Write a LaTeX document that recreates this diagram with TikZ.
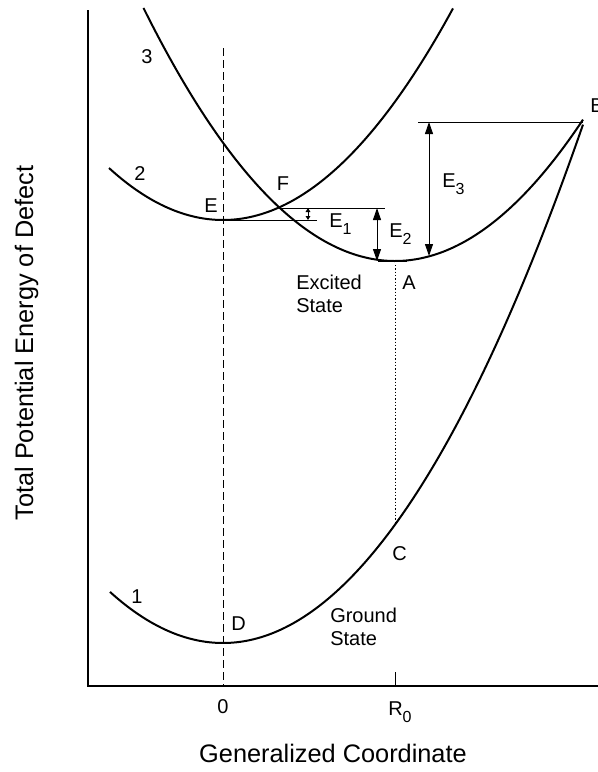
\documentclass[tikz,border=0pt]{standalone}
\usepackage{fontspec}
\setmainfont{Liberation Sans}
\usetikzlibrary{arrows.meta}
\begin{document}
\begin{tikzpicture}[x=0.75pt,y=-0.75pt,
  curve/.style={line width=1.5pt},
  thin/.style={line width=0.75pt},
  axisline/.style={line width=1.1pt},
  dimarrow/.style={line width=0.75pt,{Triangle[length=9pt,width=6pt]}-{Triangle[length=9pt,width=6pt]}},
  smallarrow/.style={line width=0.75pt,{Triangle[length=3pt,width=3.5pt]}-{Triangle[length=3pt,width=3.5pt]}},
  lbl/.style={inner sep=0pt,font=\fontsize{15}{17}\selectfont},
  big/.style={inner sep=0pt,font=\fontsize{19}{22}\selectfont}]
\useasboundingbox (0,0) rectangle (598,772);
% axes
\draw[axisline] (88,10) -- (88,686) -- (598,686);
\draw[thin] (395,672) -- (395,686);
% reference lines
\draw[thin,dash pattern=on 6pt off 3pt] (223,48) -- (223,686);
\draw[thin,dash pattern=on 1pt off 1.5pt] (395,265) -- (395,525);
% curves
\draw[curve] plot[domain=110:583,samples=120] (\x,{643-0.4*((\x-223)/10)^2});
\draw[curve] plot[domain=109:453,samples=120] (\x,{220-0.4*((\x-223)/10)^2});
\draw[curve] plot[domain=143.5:583,samples=120] (\x,{261-0.4*((\x-395)/10)^2});
\draw[line width=2.2pt] (378,261) -- (407,261);
% points
\coordinate (Bpt) at (583,122);
\coordinate (Fpt) at (279,208);
\coordinate (Ept) at (223,220);
% level lines
\draw[thin] (Ept) -- (317,220);
\draw[thin] (Fpt) -- (385,208);
\draw[thin] (418,122) -- (Bpt);
% energy arrows
\coordinate (e1t) at (308,208); \coordinate (e1b) at (308,220);
\coordinate (e2t) at (377,208); \coordinate (e2b) at (377,261);
\coordinate (e3t) at (429,122); \coordinate (e3b) at (429,256);
\draw[smallarrow] (e1t) -- (e1b);
\draw[dimarrow] (e2t) -- (e2b);
\draw[dimarrow] (e3t) -- (e3b);
% labels
\node[lbl,anchor=base] (l3) at (147,63) {3};
\node[lbl,anchor=base] (l2) at (140,180) {2};
\node[lbl,anchor=base] (l1) at (137,603) {1};
\node[lbl,anchor=base] (lE) at (211,212) {E};
\node[lbl,anchor=base] (lF) at (283,190) {F};
\node[lbl,anchor=base west] (lB) at (590,112) {B};
\node[lbl,anchor=base] (lA) at (409,289) {A};
\node[lbl,anchor=base] (lD) at (238.5,630) {D};
\node[lbl,anchor=base] (lC) at (399.5,560) {C};
\node[lbl,anchor=base west] (lE1) at (329,227) {E\raisebox{-0.75ex}{\fontsize{12}{12}\selectfont 1}};
\node[lbl,anchor=base west] (lE2) at (389,237) {E\raisebox{-0.75ex}{\fontsize{12}{12}\selectfont 2}};
\node[lbl,anchor=base west] (lE3) at (442,187) {E\raisebox{-0.75ex}{\fontsize{12}{12}\selectfont 3}};
\node[lbl,anchor=base west] (lex1) at (296,289) {Excited};
\node[lbl,anchor=base west] (lex2) at (296,312) {State};
\node[lbl,anchor=base west] (lg1) at (330,622) {Ground};
\node[lbl,anchor=base west] (lg2) at (330,645) {State};
\node[lbl,anchor=base] (l0) at (223,713) {0};
\node[lbl,anchor=base west] (lR) at (388,715) {R\raisebox{-0.75ex}{\fontsize{12}{12}\selectfont 0}};
\node[big,anchor=base] (xlab) at (333,762) {Generalized Coordinate};
\node[big,anchor=base,rotate=90] (ylab) at (33,343) {Total Potential Energy of Defect};
\end{tikzpicture}
\end{document}
